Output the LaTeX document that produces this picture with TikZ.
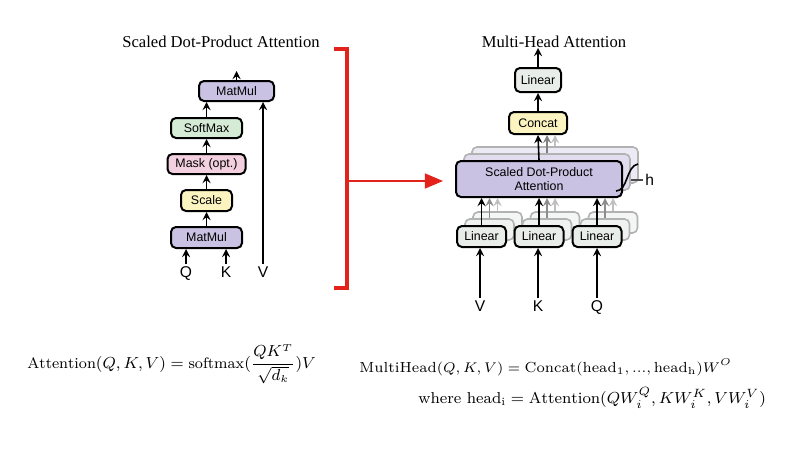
\documentclass[tikz,border=0pt]{standalone}
\usepackage{amsmath}
\usepackage{fontspec}
\setsansfont{Liberation Sans}
\newfontfamily\titlefont{Liberation Serif}
\usepackage{tikz}
\usetikzlibrary{calc}
\usetikzlibrary{arrows, positioning}
\definecolor{mmcol}{HTML}{C9C2E2}
\definecolor{smcol}{HTML}{D6EBD6}
\definecolor{mkcol}{HTML}{F3D0E0}
\definecolor{sccol}{HTML}{FBF4C1}
\definecolor{lncol}{HTML}{E8EDE9}
\definecolor{bracketred}{HTML}{E3221C}
\tikzstyle{block} = [rectangle, rounded corners=2.5pt, 
minimum height=10pt, 
inner sep=1pt,
text centered, 
font=\sffamily\fontsize{6.2}{7.2}\selectfont,
line width=1pt,
draw=black]
\tikzstyle{ghost} = [block, draw=black!30, line width=0.8pt] % layers behind
\tikzstyle{inlabel} = [inner sep=1pt, text height=5.6pt, text depth=0pt, font=\sffamily\fontsize{7.8}{9}\selectfont]
\tikzstyle{title} = [font=\titlefont\fontsize{8.3}{10}\selectfont]
\tikzstyle{formula} = [anchor=base west, inner sep=0pt]
\tikzstyle{arrow} = [thick,->,>=stealth]
\tikzstyle{ghostarrow} = [thick,->,>=stealth, black!35]
\tikzstyle{redarrow} = [line width=1.1pt,->,>=triangle 45, bracketred]

\begin{document}
\begin{tikzpicture}[x=0.5pt, y=-0.5pt]
			\useasboundingbox [fill=white] (0,0) rectangle (800,455);
			
			% scaled dot-product attention
			\node (titleA)[title] at (221,42) {Scaled Dot-Product Attention};
			\node (mm1)[block, fill=mmcol, minimum width=35.5pt, minimum height=10.5pt] at (206.5,237.5) {MatMul};
			\node (scale)[block, fill=sccol, minimum width=25.5pt, minimum height=10.5pt, above=7pt] at (mm1.north) {Scale};
			\node (mask)[block, fill=mkcol, minimum width=39pt, above=7pt] at (scale.north) {Mask (opt.)};
			\node (soft)[block, fill=smcol, minimum width=35.5pt, above=7pt] at (mask.north) {SoftMax};
			\node (mm2)[block, fill=mmcol, minimum width=37.5pt, above=7.5pt] at ($(soft.north)+(30,0)$) {MatMul};
			\draw [arrow] (mm1) -- (scale);
			\draw [arrow] (scale) -- (mask);
			\draw [arrow] (mask) -- (soft);
			\draw [arrow] (soft.north) -- (soft.north |- mm2.south);
			\coordinate (outA) at (236.5,71);
			\draw [arrow] (mm2.north) -- (outA);
			
			\node (qA)[inlabel] at (186,272) {Q};
			\node (kA)[inlabel] at (226,272) {K};
			\node (vA)[inlabel] at (263,272) {V};
			\draw [arrow] (qA.north) -- (qA.north |- mm1.south);
			\draw [arrow] (kA.north) -- (kA.north |- mm1.south);
			\draw [arrow] (vA.north) -- (vA.north |- mm2.south);
			
			% red bracket
			\coordinate (brTop) at (334,49);
			\coordinate (brBot) at (334,288);
			\coordinate (brMid) at (347,181);
			\draw [bracketred, line width=1.6pt] (brTop) -| (brMid) |- (brBot);
			
			% multi-head attention
			\node (titleB)[title] at (554,42) {Multi-Head Attention};
			\node (lin)[block, fill=lncol, minimum width=23pt, minimum height=12pt] at (538,80) {Linear};
			\node (concat)[block, fill=sccol, minimum width=29pt, minimum height=11pt, below=9pt] at (lin.south) {Concat};
			\coordinate (sdpaPos) at (539,179);
			\node (sdpaC)[ghost, fill=mmcol!35, minimum width=83pt, minimum height=18pt] at ($(sdpaPos)+(16,-14)$) {};
			\node (sdpaB)[ghost, fill=mmcol!55, minimum width=83pt, minimum height=18pt] at ($(sdpaPos)+(8,-7)$) {};
			\draw [ghostarrow, black!25] (sdpaC.north) -- (sdpaC.north |- concat.south);
			\draw [ghostarrow, black!50] (sdpaB.north) -- (sdpaB.north |- concat.south);
			\node (sdpa)[block, fill=mmcol, minimum width=83pt, minimum height=18pt, align=center] at (sdpaPos) {Scaled Dot-Product\\Attention};
			\draw [arrow] (concat) -- (lin);
			\draw [arrow] (sdpa.north) -- (concat.south);
			\coordinate (outB) at (538,48);
			\draw [arrow] (lin.north) -- (outB);
			
			\coordinate (l2Pos) at (539,236.5);
			\coordinate (l1Pos) at (481.5,236.5);
			\coordinate (l3Pos) at (597,236.5);
			\foreach \n in {1,2,3}{
				\node (l\n C)[ghost, fill=lncol!50, minimum width=24.5pt, minimum height=10.5pt] at ($(l\n Pos)+(16,-14)$) {};
				\node (l\n B)[ghost, fill=lncol!70, minimum width=24.5pt, minimum height=10.5pt] at ($(l\n Pos)+(8,-7)$) {};
				\draw [ghostarrow, black!25] (l\n C.north) -- (l\n C.north |- sdpa.south);
				\draw [ghostarrow, black!45] (l\n B.north) -- (l\n B.north |- sdpa.south);
				\node (l\n)[block, fill=lncol, minimum width=24.5pt, minimum height=10.5pt] at (l\n Pos) {Linear};
				\draw [arrow] (l\n.north) -- (l\n.north |- sdpa.south);
			}
			
			\node (vB)[inlabel] at (480,306) {V};
			\node (kB)[inlabel] at (538,306) {K};
			\node (qB)[inlabel] at (597,306) {Q};
			\draw [arrow] (vB.north) -- (vB.north |- l1.south);
			\draw [arrow] (kB.north) -- (kB.north |- l2.south);
			\draw [arrow] (qB.north) -- (qB.north |- l3.south);
			
			% number of heads
			\coordinate (hLow) at (616,191);
			\coordinate (hHigh) at (638,164);
			\coordinate (hTick) at (631,180);
			\draw [line width=0.8pt] (hLow) .. controls (628,191) and (626,166) .. (hHigh);
			\node (hLabel)[inlabel, anchor=west] at (643,180) {h};
			\draw [line width=0.6pt, black!70] (hTick) -- (hLabel.west);
			
			\coordinate (redEnd) at (443,181);
			\draw [redarrow] (brMid) -- (redEnd);
			
			% formulas
			\node (eqA)[formula, font=\fontsize{7.6}{10}\selectfont] at (27,368)
			{$\displaystyle\mathrm{Attention}(Q,K,V) = \mathrm{softmax}(\frac{QK^T}{\sqrt{d_k}})V$};
			\node (eqB)[formula, font=\fontsize{7.3}{9}\selectfont] at (359,372)
			{$\mathrm{MultiHead}(Q,K,V) = \mathrm{Concat}(\mathrm{head}_1,...,\mathrm{head}_{\mathrm{h}})W^O$};
			\node (eqC)[formula, font=\fontsize{7.9}{9}\selectfont] at (418,403)
			{$\text{where }\mathrm{head}_{\mathrm{i}} = \mathrm{Attention}(QW^Q_i, KW^K_i, VW^V_i)$};
		\end{tikzpicture}
\end{document}
